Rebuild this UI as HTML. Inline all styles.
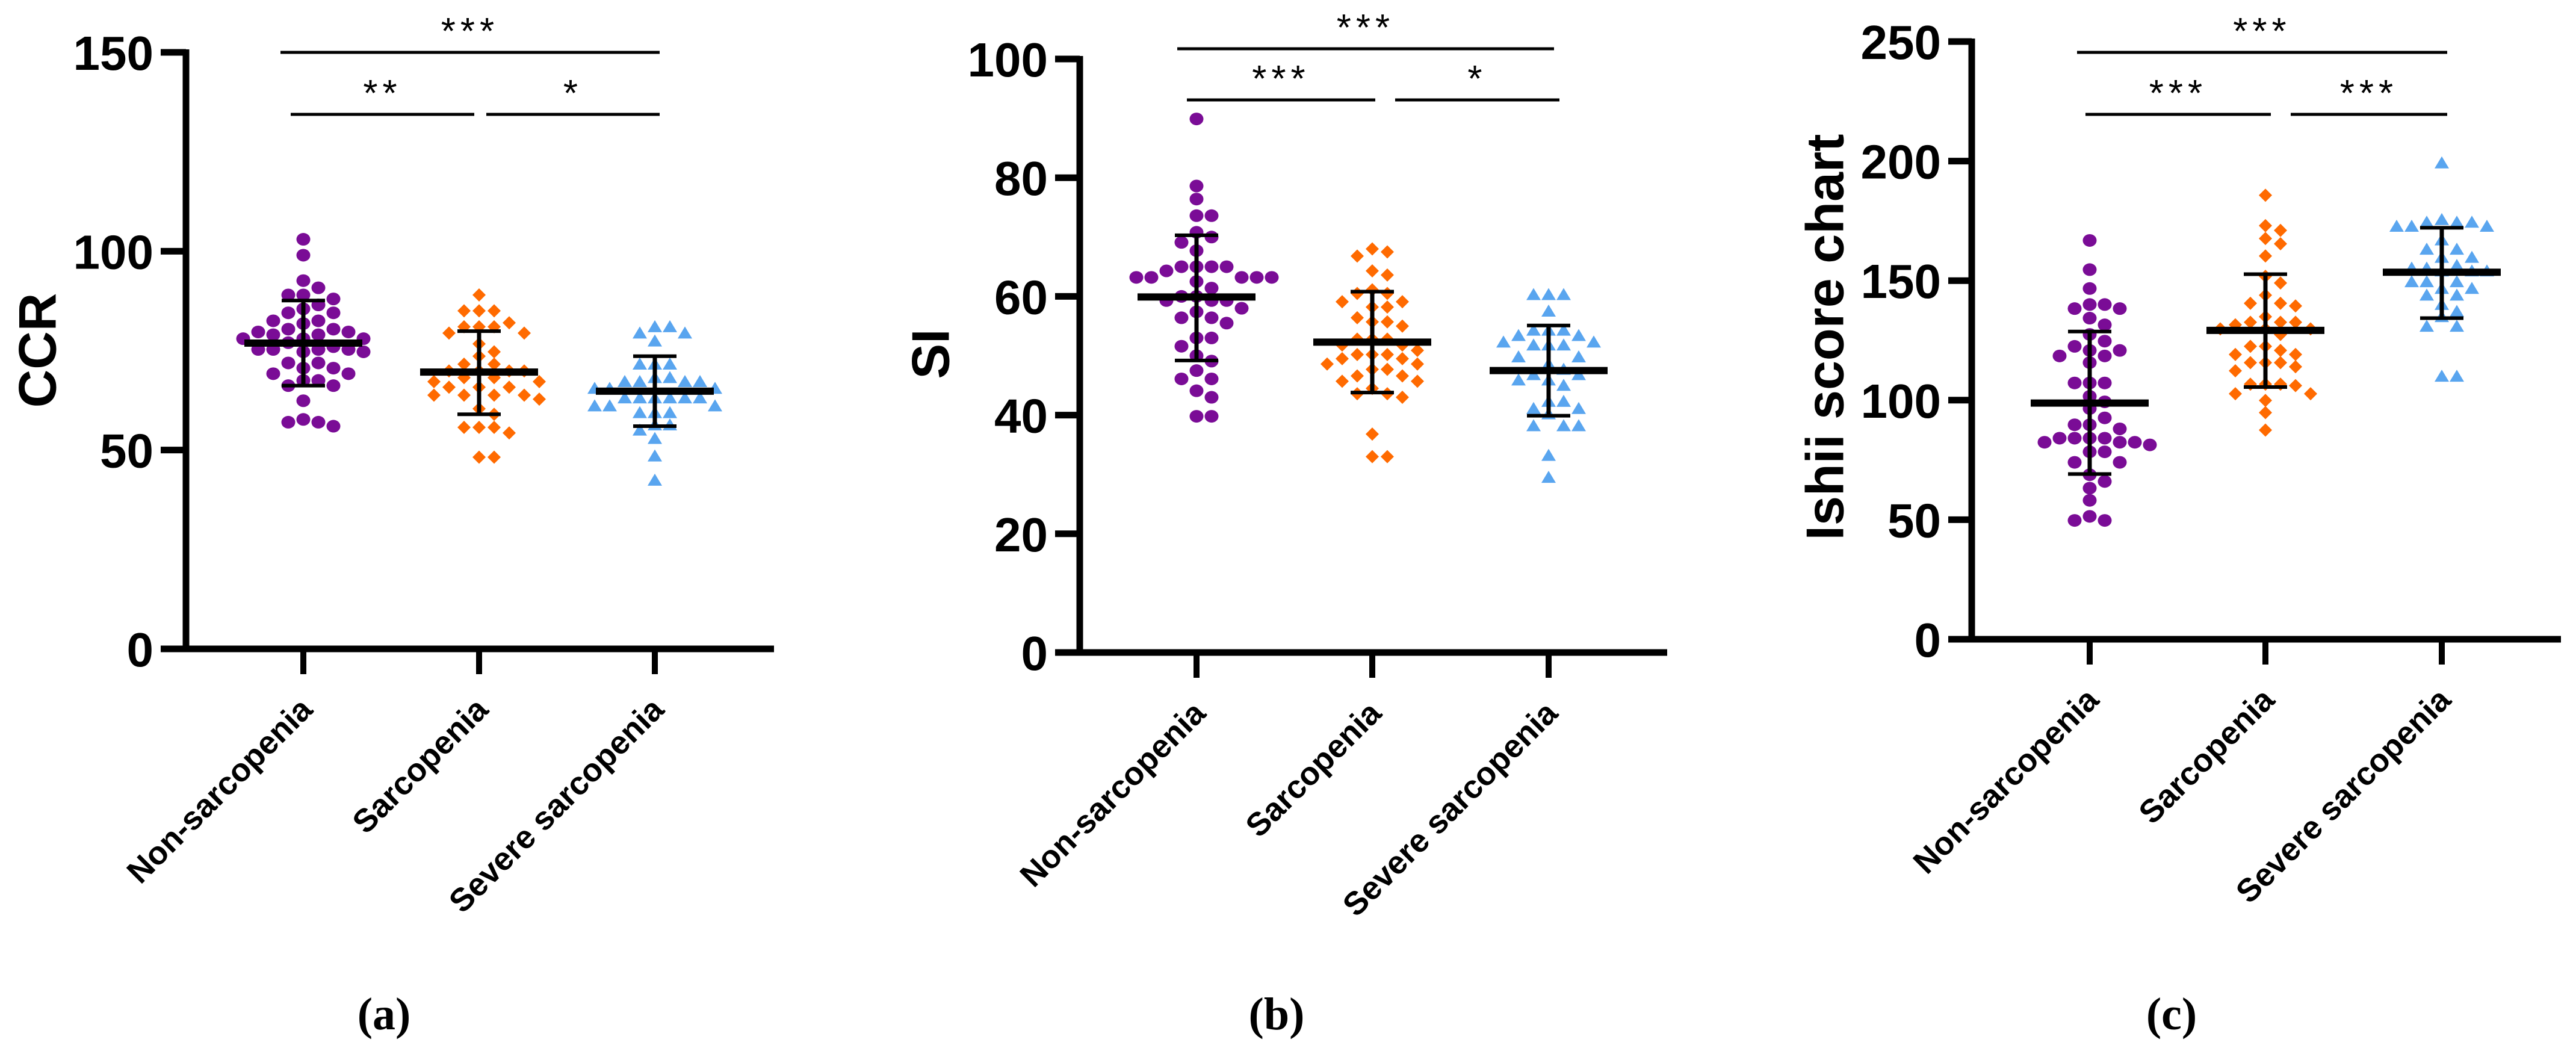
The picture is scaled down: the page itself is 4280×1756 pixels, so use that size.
<!DOCTYPE html>
<html><head><meta charset="utf-8">
<style>
html,body{margin:0;padding:0;background:#fff;}
svg{display:block;}
</style></head>
<body>
<svg id="fig" width="4280" height="1756" viewBox="0 0 4280 1756" xmlns="http://www.w3.org/2000/svg">
<rect x="0" y="0" width="4280" height="1756" fill="#fff"/>
</svg>
<script>
// ---------- data ----------
const categories = ["Non-sarcopenia", "Sarcopenia", "Severe sarcopenia"];
const panelLabels = ["(a)", "(b)", "(c)"];
const yTitles = ["CCR", "SI", "Ishii score chart"];
const yTicksA = [0, 50, 100, 150];
const yTicksB = [0, 20, 40, 60, 80, 100];
const yTicksC = [0, 50, 100, 150, 200, 250];

const ccrNon = [103,99,92.6,90.8,89,89,88,86.5,85.5,84.5,84.5,82.5,82.5,81.8,80.4,80.4,79.7,79.7,79,79,78,78,78,77,76,75.3,75.3,75.3,75.3,74.7,74.7,71.9,71.9,70.6,70.6,69.2,69.2,67.5,67.5,66.2,66.2,62.4,57.7,57,57,56];
const ccrSar = [89,85,85,85,82,81,81,81,79.4,79.4,76.7,74.7,73.6,71.6,71.6,69.9,69.9,69.9,69.9,68.2,68.2,67.2,67.2,65.8,65.8,65.8,63.8,63.8,63.8,63.8,62.8,60.4,59,55.7,55.7,55.7,54.3,48.2,48.2];
const ccrSev = [81,81,79.4,79.4,77.4,71.6,71.6,71.6,68.2,68.2,67.2,67.2,67.2,67.2,65.5,65.5,65.5,63.1,63.1,63.1,63.1,63.1,63.1,61.1,61.1,61.1,59.4,59.4,59.4,56.3,56.3,55,52.9,48.5,42.4];
const ccrMean = [76.9, 69.6, 64.8];
const ccrSdLow = [66.2, 59, 56];
const ccrSdHigh = [87.6, 79.9, 73.6];

const siNon = [89.9,78.6,76.4,73.6,73.6,70.8,70,69.1,67.7,65,65,65,65,64.3,63.2,63.2,63.2,63.2,63.2,62.5,61.4,60,60,59.3,59.3,59.3,58,57.4,56.4,56.4,55.5,53,53,51.6,50,49.1,47.5,46.1,46.1,44.1,43,39.8,39.8];
const siSar = [68,67.5,66.8,64.3,63.6,61.1,60.5,60.5,59.1,59.1,58.2,58.2,56.4,55.7,55.7,55,52.8,52.8,52.8,51.8,51.8,50.9,50.2,50.2,50.2,49.5,49.5,48.6,48.6,47.7,47.7,46.6,46.6,45.7,45.7,44.5,43.6,43.6,43,36.8,33,33];
const siSev = [60.3,60.3,60.3,57.5,54.3,54.3,54.3,53.4,53.4,52.3,52.3,51.8,51.8,51.8,49.8,49.8,48.6,47.7,46.8,46.8,45.9,45.9,45,42.3,42.3,41.1,41.1,40.2,38.2,38.2,38.2,33.2,29.5];
const siMean = [59.9, 52.3, 47.5];
const siSdLow = [49.2, 43.8, 39.9];
const siSdHigh = [70.3, 60.8, 55.1];

const isNon = [166.8,154.6,146.7,140,140,138.3,138.3,134.3,131.5,127.5,124.7,122.5,120.8,120.8,118.5,118.5,115.7,107.2,107.2,107.2,101.6,99.3,96.5,92.6,89.7,89.7,88,84.1,84.1,84.1,84.1,82.4,82.4,82.4,81.3,78.4,78.4,74,74,68.8,66,63.2,58.1,51.4,49.7,49.7];
const isSar = [185.7,173,171,167.6,165.4,160.3,151.8,149,143.9,140.5,140.5,139.4,134.9,132.6,132.6,132.6,131.5,129.8,129.8,129.8,127.5,122.5,122.5,120.8,119.1,119.1,115.7,115.7,115.7,114,112.3,106.7,106.7,106.7,106.1,102.7,102.7,99.9,94.8,87.5];
const isSev = [199.2,175.5,174.4,174.4,174.4,172.7,172.7,172.7,167,163.1,163.1,159.7,159.7,156.3,155.2,155.2,154,154,154,149.5,149.5,149.5,146.7,146.7,143.9,143.9,140,137.1,134.9,130.9,130.9,110,110];
const isMean = [98.8, 129.2, 153.5];
const isSdLow = [69.1, 105.5, 134.3];
const isSdHigh = [128.7, 152.7, 172.1];

const sigA = ["***", "**", "*"];
const sigB = ["***", "***", "*"];
const sigC = ["***", "***", "***"];

// ---------- layout ----------
const NS = "http://www.w3.org/2000/svg";
const svg = document.getElementById("fig");
const COLORS = ["#7a0c96", "#ff6a00", "#59a5ef"];
const SHAPES = ["circle", "diamond", "triangle"];

function mk(tag, attrs, parent) {
  const e = document.createElementNS(NS, tag);
  for (const k in attrs) e.setAttribute(k, attrs[k]);
  (parent || svg).appendChild(e);
  return e;
}

const panels = [
  {key:"a", axisX:309, y0:1078, yTop:87, ymax:150, ticks:yTicksA, xL:267, xR:1286, cats:[504,796,1088],
   series:[ccrNon,ccrSar,ccrSev], mean:ccrMean, lo:ccrSdLow, hi:ccrSdHigh, sig:sigA,
   title:yTitles[0], titleX:62, titleY:582, label:panelLabels[0], labelX:638,
   brTop:87, brLow:190, br:[[466,1096],[483,788],[808,1096]]},
  {key:"b", axisX:1794, y0:1084, yTop:98, ymax:100, ticks:yTicksB, xL:1753, xR:2770, cats:[1988,2280,2573],
   series:[siNon,siSar,siSev], mean:siMean, lo:siSdLow, hi:siSdHigh, sig:sigB,
   title:yTitles[1], titleX:1546, titleY:588, label:panelLabels[1], labelX:2121,
   brTop:81, brLow:166, br:[[1956,2582],[1972,2285],[2318,2591]]},
  {key:"c", axisX:3276, y0:1062, yTop:69, ymax:250, ticks:yTicksC, xL:3237, xR:4255, cats:[3472,3764,4057],
   series:[isNon,isSar,isSev], mean:isMean, lo:isSdLow, hi:isSdHigh, sig:sigC,
   title:yTitles[2], titleX:3032, titleY:560, label:panelLabels[2], labelX:3608,
   brTop:87, brLow:190, br:[[3451,4066],[3465,3773],[3806,4066]]}
];

function beeswarm(vals, yScale) {
  const order = vals.map((v,i)=>i).sort((a,b)=>vals[b]-vals[a]);
  const placed = [];
  const out = new Array(vals.length);
  const step = 25;
  for (const i of order) {
    const y = yScale(vals[i]);
    for (let k = 0; k < 40; k++) {
      const m = Math.ceil(k/2) * (k % 2 ? 1 : -1);
      const dx = m * step;
      let ok = true;
      for (const p of placed) {
        if (Math.abs(p.y - y) < 20 && Math.abs(p.dx - dx) < 24) { ok = false; break; }
      }
      if (ok) { placed.push({y, dx}); out[i] = {y, dx}; break; }
    }
  }
  return out;
}

panels.forEach((P) => {
  const g = mk("g", {});
  
  
  const yScale = v => P.y0 - (v / P.ymax) * (P.y0 - P.yTop);

  P.series.forEach((vals, ci) => {
    const sg = mk("g", {fill: COLORS[ci]}, g);
    
    
    const pos = beeswarm(vals, yScale);
    pos.forEach((p) => {
      const cx = P.cats[ci] + p.dx, cy = p.y;
      let m;
      if (SHAPES[ci] === "circle") {
        m = mk("ellipse", {cx, cy, rx:11.5, ry:10.5}, sg);
      } else if (SHAPES[ci] === "diamond") {
        m = mk("polygon", {points:`${cx},${cy-11} ${cx+11},${cy} ${cx},${cy+11} ${cx-11},${cy}`}, sg);
      } else {
        m = mk("polygon", {points:`${cx},${cy-11} ${cx+12},${cy+9} ${cx-12},${cy+9}`}, sg);
      }
      
      
    });
  });

  P.cats.forEach((cx, ci) => {
    const eg = mk("g", {stroke:"#000"}, g);
    
    
    const yh = yScale(P.hi[ci]), yl = yScale(P.lo[ci]), ym = yScale(P.mean[ci]);
    mk("line", {x1:cx, x2:cx, y1:yh, y2:yl, "stroke-width":7}, eg);
    mk("line", {x1:cx-36, x2:cx+36, y1:yh, y2:yh, "stroke-width":6}, eg);
    mk("line", {x1:cx-36, x2:cx+36, y1:yl, y2:yl, "stroke-width":6}, eg);
    mk("line", {x1:cx-98, x2:cx+98, y1:ym, y2:ym, "stroke-width":12}, eg);
  });

  const ax = mk("g", {stroke:"#000", "stroke-width":11}, g);
  
  
  mk("line", {x1:P.axisX, x2:P.axisX, y1:P.yTop-5, y2:P.y0+5}, ax);
  mk("line", {x1:P.xL, x2:P.xR, y1:P.y0, y2:P.y0}, ax);
  P.ticks.forEach(t => {
    const y = yScale(t);
    mk("line", {x1:P.xL, x2:P.axisX, y1:y, y2:y}, ax);
    const tl = mk("text", {x:P.xL-12, y:y+29, "text-anchor":"end", "font-family":"Liberation Sans, Arial, sans-serif",
      "font-weight":"bold", "font-size":80, fill:"#000", stroke:"none"}, g);
    tl.textContent = String(t);
    
    
  });
  P.cats.forEach((cx, ci) => {
    mk("line", {x1:cx, x2:cx, y1:P.y0, y2:P.y0+42, "stroke-width":10}, ax);
    const ax0 = cx + 18, ay0 = P.y0 + 104;
    const cl = mk("text", {x:ax0, y:ay0, "text-anchor":"end", transform:`rotate(-45 ${ax0} ${ay0})`,
      "font-family":"Liberation Sans, Arial, sans-serif", "font-weight":"bold", "font-size":54, fill:"#000"}, g);
    cl.textContent = categories[ci];
    
    
  });

  const yt = mk("text", {x:P.titleX, y:P.titleY, "text-anchor":"middle", "dominant-baseline":"central",
    transform:`rotate(-90 ${P.titleX} ${P.titleY})`, "font-family":"Liberation Sans, Arial, sans-serif",
    "font-weight":"bold", "font-size":88, fill:"#000"}, g);
  yt.textContent = P.title;
  
  

  const bys = [P.brTop, P.brLow, P.brLow];
  P.br.forEach((b, bi) => {
    const bl = mk("line", {x1:b[0], x2:b[1], y1:bys[bi], y2:bys[bi], stroke:"#000", "stroke-width":5}, g);
    
    
    const st = mk("text", {x:(b[0]+b[1])/2, y:bys[bi]-14, "text-anchor":"middle",
      "font-family":"Liberation Sans, Arial, sans-serif", "font-size":62, "letter-spacing":8, fill:"#000"}, g);
    st.textContent = P.sig[bi];
    
    
  });

  const pl = mk("text", {x:P.labelX, y:1710, "text-anchor":"middle", "font-family":"Liberation Serif, serif",
    "font-size":76, "font-weight":"bold", fill:"#000"}, g);
  pl.textContent = P.label;
  
  
});
</script>
</body></html>
